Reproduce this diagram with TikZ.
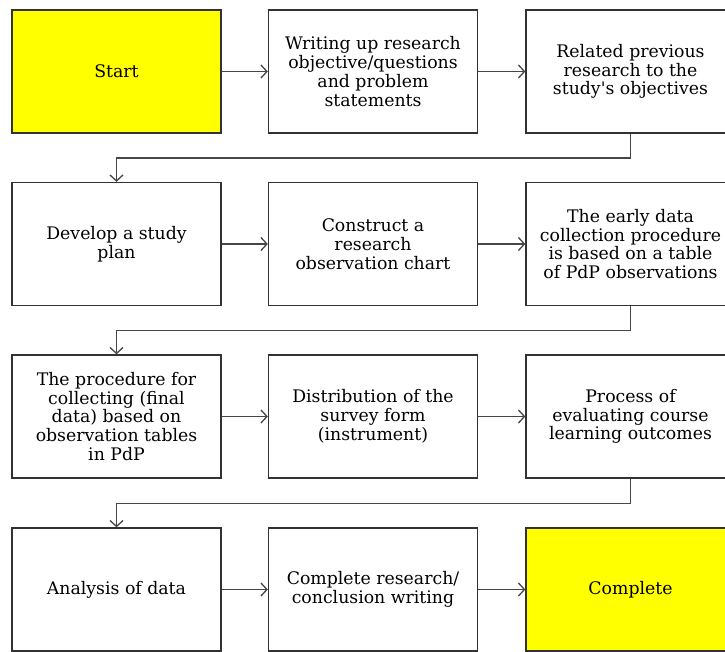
\documentclass[tikz,border=0pt]{standalone}
\usepackage{fontspec}
\setmainfont{DejaVu Serif}
\usetikzlibrary{arrows.meta}
\definecolor{hlyellow}{RGB}{255,255,0}
\definecolor{edge}{RGB}{50,50,50}
\begin{document}
\begin{tikzpicture}[x=1pt,y=-1pt,
  box/.style={draw=edge, line width=1.3pt, minimum width=209pt, minimum height=123pt, align=center, font=\fontsize{17.3}{18.8}\selectfont, inner sep=0pt},
  hl/.style={box, fill=hlyellow},
  conn/.style={draw=edge!90, line width=1.3pt, -{Straight Barb[length=6pt,width=13pt,line width=1.3pt]}}]
\useasboundingbox (0,0) rectangle (725,652);
\clip (0,0) rectangle (725,652);
% row 1
\node[hl]  (a1) at (116.5,71.5) {Start};
\node[box] (a2) at (373,71.5) {Writing up research\\objective/questions\\and problem\\statements};
\node[box] (a3) at (630.5,71.5) {Related previous\\research to the\\study\textquotesingle s objectives};
% row 2
\node[box] (b1) at (116.5,244) {Develop a study\\plan};
\node[box] (b2) at (373,244) {Construct a\\research\\observation chart};
\node[box] (b3) at (630.5,244) {The early data\\collection procedure\\is based on a table\\of PdP observations};
% row 3
\node[box] (c1) at (116.5,416.5) {The procedure for\\collecting (final\\data) based on\\observation tables\\in PdP};
\node[box] (c2) at (373,416.5) {Distribution of the\\survey form\\(instrument)};
\node[box] (c3) at (630.5,416.5) {Process of\\evaluating course\\learning outcomes};
% row 4
\node[box] (d1) at (116.5,589.5) {Analysis of data};
\node[box] (d2) at (373,589.5) {Complete research/\\conclusion writing};
\node[hl]  (d3) at (630.5,589.5) {Complete};
% connectors
\draw[conn] (a1) -- (a2);
\draw[conn] (a2) -- (a3);
\draw[conn] (b1) -- (b2);
\draw[conn] (b2) -- (b3);
\draw[conn] (c1) -- (c2);
\draw[conn] (c2) -- (c3);
\draw[conn] (d1) -- (d2);
\draw[conn] (d2) -- (d3);
\draw[conn] (a3.south) -- ++(0,24.5) -| (b1.north);
\draw[conn] (b3.south) -- ++(0,24.5) -| (c1.north);
\draw[conn] (c3.south) -- ++(0,24.5) -| (d1.north);
\end{tikzpicture}
\end{document}
